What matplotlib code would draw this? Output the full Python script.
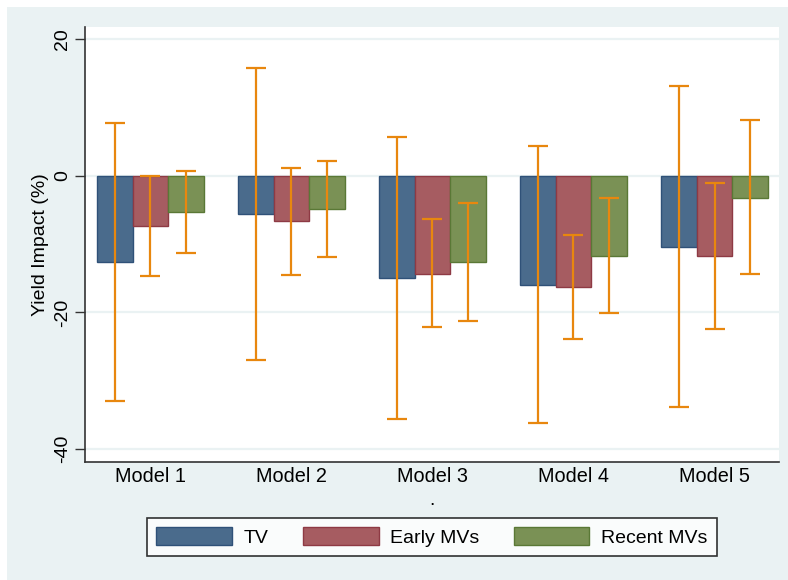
import matplotlib
matplotlib.use("Agg")
import matplotlib.pyplot as plt
from matplotlib.patches import Rectangle, Patch
import numpy as np

plt.rcParams['font.family'] = ['Liberation Sans', 'DejaVu Sans']

models = ["Model 1", "Model 2", "Model 3", "Model 4", "Model 5"]
series = ["TV", "Early MVs", "Recent MVs"]
tv = [-12.6, -5.6, -14.9, -16.0, -10.4]
tv_lo = [-32.9, -26.9, -35.6, -36.2, -33.9]
tv_hi = [7.7, 15.8, 5.7, 4.4, 13.1]
early = [-7.4, -6.6, -14.3, -16.3, -11.7]
early_lo = [-14.7, -14.5, -22.1, -23.9, -22.4]
early_hi = [0.0, 1.2, -6.3, -8.7, -1.0]
recent = [-5.3, -4.9, -12.6, -11.7, -3.2]
recent_lo = [-11.3, -11.9, -21.2, -20.1, -14.4]
recent_hi = [0.7, 2.2, -4.0, -3.2, 8.2]
yticks = [20, 0, -20, -40]

colors = ["#4A6B8C", "#A65C61", "#7A9155"]
edges = ["#2F5178", "#8E3A44", "#5A7836"]
err_color = "#E8870E"
bg = "#EAF2F3"

fig = plt.figure(figsize=(7.88, 5.80), dpi=100)
fig.patch.set_facecolor("white")
fig.patches.append(Rectangle((7/788, 0), 1 - 7/788, 1 - 7/580, transform=fig.transFigure,
                             facecolor=bg, edgecolor="none", zorder=-10))

ax = fig.add_axes([85.3/788, (580-461.7)/580, (779-85.3)/788, (461.7-27)/580])
ax.set_facecolor("white")

x = np.arange(len(models))
w = 0.252
data = [(tv, tv_lo, tv_hi), (early, early_lo, early_hi), (recent, recent_lo, recent_hi)]
for i, (vals, lo, hi) in enumerate(data):
    xs = x + (i - 1) * w
    ax.bar(xs, vals, width=w, color=colors[i], edgecolor=edges[i], linewidth=1.0, zorder=3)
    vals = np.array(vals); lo = np.array(lo); hi = np.array(hi)
    ax.errorbar(xs, vals, yerr=[vals - lo, hi - vals], fmt="none", ecolor=err_color,
                elinewidth=1.6, capsize=7, capthick=1.6, zorder=4)

ax.set_xlim(-0.461, 4.457)
ax.set_ylim(-41.86, 21.8)
ax.set_yticks(yticks)
ax.set_yticklabels([str(t) for t in yticks], rotation=90, va="center", fontsize=14)
ax.set_xticks(x)
ax.set_xticklabels(models, fontsize=14.3)
ax.tick_params(axis="x", length=0, pad=4)
ax.tick_params(axis="y", length=7, width=1, color="#333333", pad=3)
for yv in yticks:
    ax.axhline(yv, color=bg, linewidth=1.6, zorder=1)
for s in ["top", "right"]:
    ax.spines[s].set_visible(False)
for s in ["left", "bottom"]:
    ax.spines[s].set_color("#333333")
    ax.spines[s].set_linewidth(1.2)
ax.set_ylabel("Yield Impact (%)", fontsize=14, labelpad=4)
ax.set_xlabel(".", fontsize=14, labelpad=4)

handles = [Patch(facecolor=colors[i], edgecolor=edges[i], label=series[i]) for i in range(3)]
leg = fig.legend(handles=handles, loc="center", bbox_to_anchor=(432/788, (580-537)/580), ncol=3,
                 fontsize=14, frameon=True, fancybox=False, edgecolor="black",
                 handlelength=3.9, handleheight=1.0, handletextpad=0.6, columnspacing=1.75,
                 borderpad=0.5)
leg.get_frame().set_linewidth(1.2)

fig.savefig("out.png", dpi=100, facecolor="white")
